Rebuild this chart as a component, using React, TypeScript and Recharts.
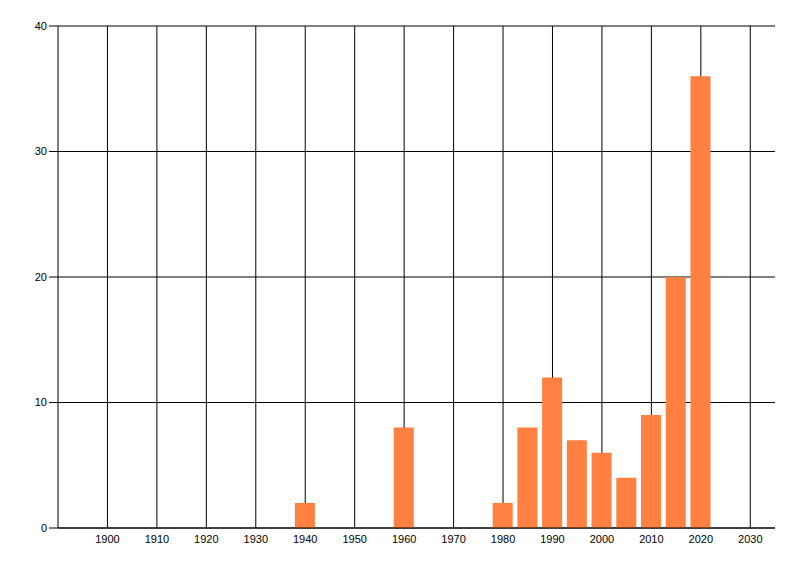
import React from "react";
import { BarChart, Bar, XAxis, YAxis, CartesianGrid } from "recharts";

const years = [1940, 1960, 1980, 1985, 1990, 1995, 2000, 2005, 2010, 2015, 2020];
const counts = [2, 8, 2, 8, 12, 7, 6, 4, 9, 20, 36];
const xTicks = [1900, 1910, 1920, 1930, 1940, 1950, 1960, 1970, 1980, 1990, 2000, 2010, 2020, 2030];
const yTicks = [0, 10, 20, 30, 40];
const xDomain = [1890, 2035];

const data = years.map((y, i) => ({ year: y, count: counts[i] }));

const tickStyle = { fill: "#000", fontSize: 11, fontFamily: "'Liberation Sans', Arial, sans-serif" };

const verticalGen = (props: any) => {
  const xAxis = props && props.xAxis;
  if (xAxis && typeof xAxis.scale === "function") {
    return xTicks.map((t) => xAxis.scale(t));
  }
  const off = props.offset;
  return xTicks.map(
    (t) => off.left + ((t - xDomain[0]) / (xDomain[1] - xDomain[0])) * off.width
  );
};

export default function App() {
  return (
    <div style={{ width: 784, height: 560 }}>
      <BarChart
        width={784}
        height={560}
        data={data}
        margin={{ top: 18, right: 17, bottom: 10, left: 10 }}
      >
        <CartesianGrid stroke="#000" strokeWidth={1} verticalCoordinatesGenerator={verticalGen} />
        <XAxis
          dataKey="year"
          type="number"
          domain={xDomain}
          ticks={xTicks}
          interval={0}
          allowDataOverflow
          tickLine={false}
          axisLine={{ stroke: "#000" }}
          tick={tickStyle}
          tickSize={6}
          tickMargin={1}
          height={30}
        />
        <YAxis
          type="number"
          domain={[0, 40]}
          ticks={yTicks}
          interval={0}
          axisLine={{ stroke: "#000" }}
          tickLine={{ stroke: "#000" }}
          tickSize={9}
          tickMargin={2}
          tick={tickStyle}
          width={40}
        />
        <Bar dataKey="count" fill="#FF8040" barSize={20} isAnimationActive={false} />
      </BarChart>
    </div>
  );
}
